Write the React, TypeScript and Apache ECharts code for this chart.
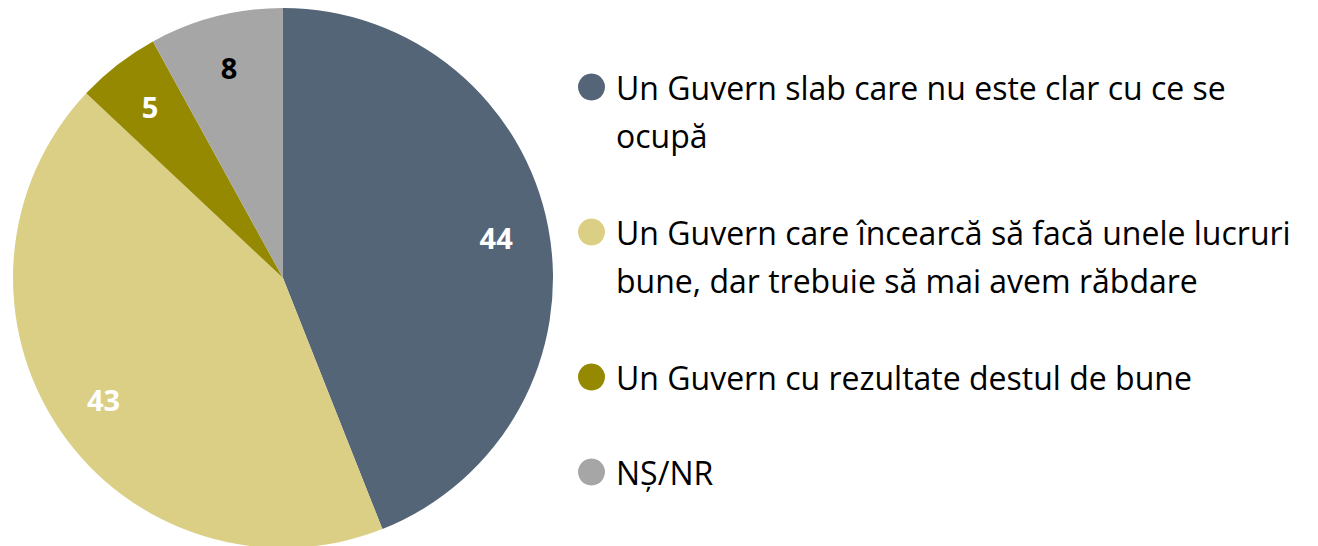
import React, { useEffect, useRef } from "react";
import * as echarts from "echarts";

const categories = [
  "Un Guvern slab care nu este clar cu ce se ocupă",
  "Un Guvern care încearcă să facă unele lucruri bune, dar trebuie să mai avem răbdare",
  "Un Guvern cu rezultate destul de bune",
  "NȘ/NR",
];
const legendLabels = [
  "Un Guvern slab care nu este clar cu ce se\nocupă",
  "Un Guvern care încearcă să facă unele lucruri\nbune, dar trebuie să mai avem răbdare",
  "Un Guvern cu rezultate destul de bune",
  "NȘ/NR",
];
const values = [44, 43, 5, 8];
const colors = ["#546578", "#DBCF86", "#948900", "#A6A6A6"];
const labelColors = ["#FFFFFF", "#FFFFFF", "#FFFFFF", "#000000"];

const FONT = "'Open Sans', 'Noto Sans', sans-serif";

export default function App() {
  const ref = useRef<HTMLDivElement>(null);
  useEffect(() => {
    if (!ref.current) return;
    const chart = echarts.init(ref.current, null, { renderer: "svg" });
    const iconY = [87, 232, 377, 472];
    const lh = 48;
    const legends = categories.map((name, i) => {
      const lines = legendLabels[i].split("\n").length;
      const blanks = "\n".repeat(lines - 1);
      const blockH = (2 * lines - 1) * lh;
      return {
        orient: "vertical",
        left: 578,
        top: iconY[i] - blockH / 2,
        padding: 0,
        itemWidth: 27,
        itemHeight: 27,
        icon: "circle",
        selectedMode: false,
        data: [name],
        formatter: () => blanks + legendLabels[i],
        textStyle: {
          fontFamily: FONT,
          fontSize: 32,
          lineHeight: lh,
          color: "#000000",
          padding: [0, 0, 0, 6],
        },
      };
    });
    const data = categories.map((name, i) => ({
      name,
      value: values[i],
      itemStyle: { color: colors[i] },
    }));
    chart.setOption({
      animation: false,
      legend: legends,
      series: [
        {
          type: "pie",
          center: [283, 278],
          radius: [0, 270],
          startAngle: 90,
          clockwise: true,
          label: { show: false },
          labelLine: { show: false },
          silent: true,
          data,
        },
        {
          type: "pie",
          center: [283, 278],
          radius: [158, 270],
          startAngle: 90,
          clockwise: true,
          silent: true,
          itemStyle: { color: "transparent" },
          labelLine: { show: false },
          data: categories.map((name, i) => ({
            name,
            value: values[i],
            itemStyle: { color: "rgba(0,0,0,0)" },
            label: {
              show: true,
              position: "inside",
              formatter: "{c}",
              color: labelColors[i],
              fontFamily: FONT,
              fontWeight: "bold",
              fontSize: 29,
            },
          })),
        },
      ],
    });
    return () => chart.dispose();
  }, []);
  return (
    <div
      ref={ref}
      style={{ position: "fixed", left: 0, top: 0, width: 1318, height: 546, background: "#fff" }}
    />
  );
}
